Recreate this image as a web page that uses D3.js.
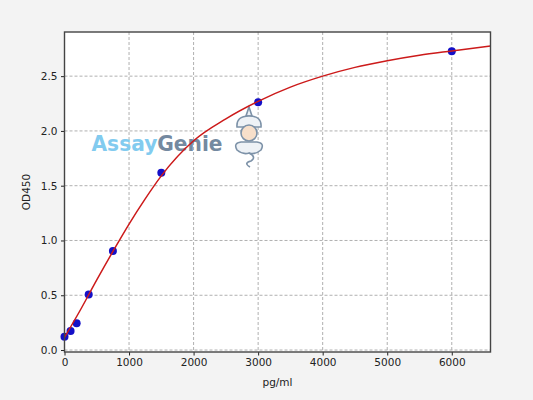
<!DOCTYPE html>
<html>
<head>
<meta charset="utf-8">
<script src="https://cdn.jsdelivr.net/npm/d3@7"></script>
<style>
  body { margin: 0; background: #f3f3f3; }
  svg { display: block; }
  text { font-family: "DejaVu Sans", sans-serif; fill: #222; }
</style>
</head>
<body>
<svg id="chart" width="533" height="400"></svg>
<script>
// standard points (pg/ml, OD450)
const concentrations = [0, 94, 188, 375, 750, 1500, 3000, 6000];
const odValues = [0.121, 0.173, 0.244, 0.508, 0.903, 1.618, 2.262, 2.728];

// fitted curve
const curveX = [0, 250, 500, 750, 1000, 1250, 1500, 2000, 2500, 3000, 3500, 4000, 4500, 5000, 5500, 6000, 6600];
const curveY = [0.115, 0.37, 0.64, 0.90, 1.15, 1.38, 1.59, 1.91, 2.11, 2.27, 2.40, 2.50, 2.58, 2.64, 2.69, 2.73, 2.776];

const xTicks = [0, 1000, 2000, 3000, 4000, 5000, 6000];
const yTicks = [0.0, 0.5, 1.0, 1.5, 2.0, 2.5];

const margin = { top: 32, right: 42.5, bottom: 48, left: 64.5 };
const width = 533 - margin.left - margin.right;
const height = 400 - margin.top - margin.bottom;

const svg = d3.select('#chart');

const x = d3.scaleLinear().domain([0, 6600]).range([0, width]);
const y = d3.scaleLinear().domain([-0.018, 2.903]).range([height, 0]);

const g = svg.append('g')
    .attr('transform', `translate(${margin.left},${margin.top})`);

g.append('rect')
    .attr('width', width)
    .attr('height', height)
    .attr('fill', '#fff');

// grid
g.append('g')
    .selectAll('line')
    .data(xTicks)
    .join('line')
    .attr('x1', d => x(d)).attr('x2', d => x(d))
    .attr('y1', 0).attr('y2', height)
    .attr('stroke', '#b0b0b0')
    .attr('stroke-dasharray', '3,2');

g.append('g')
    .selectAll('line')
    .data(yTicks)
    .join('line')
    .attr('x1', 0).attr('x2', width)
    .attr('y1', d => y(d)).attr('y2', d => y(d))
    .attr('stroke', '#b0b0b0')
    .attr('stroke-dasharray', '3,2');

// watermark
const wm = g.append('text')
    .attr('x', 91.5 - margin.left)
    .attr('y', 151 - margin.top)
    .attr('font-family', '"Liberation Sans", Arial, sans-serif')
    .attr('font-weight', 'bold')
    .attr('font-size', 21)
    .attr('textLength', 131)
    .attr('lengthAdjust', 'spacingAndGlyphs');
wm.append('tspan').attr('fill', '#82cbef').style('fill', '#82cbef').text('Assay');
wm.append('tspan').attr('fill', '#7489a0').style('fill', '#7489a0').text('Genie');

// little genie
const genie = g.append('g')
    .attr('transform', `translate(${249 - margin.left},${107 - margin.top})`)
    .attr('stroke', '#7d92a8')
    .attr('stroke-width', 1.6)
    .attr('fill', '#fff');
genie.append('path').attr('d', 'M0,0 L-3,9 L3,9 Z').attr('fill', '#eef2f6');
genie.append('path').attr('d', 'M-12,20 Q-13,9 0,9 Q13,9 12,20 Z').attr('fill', '#eef2f6');
genie.append('circle').attr('cx', 0).attr('cy', 26).attr('r', 8).attr('fill', '#f7dfca');
genie.append('path').attr('d', 'M-12,43 Q-16,36 -8,35 L8,35 Q16,36 12,43 Q6,48 0,46 Q-6,48 -12,43 Z').attr('fill', '#eef2f6');
genie.append('path').attr('d', 'M0,46 Q8,50 2,54 Q-6,56 1,60').attr('fill', 'none');

// axes
const xAxis = g.append('g')
    .attr('transform', `translate(0,${height})`)
    .call(d3.axisBottom(x).tickValues(xTicks).tickFormat(d3.format('d')).tickSize(3.5).tickPadding(3.5));
const yAxis = g.append('g')
    .call(d3.axisLeft(y).tickValues(yTicks).tickFormat(d3.format('.1f')).tickSize(3.5).tickPadding(3.5));
[xAxis, yAxis].forEach(a => {
    a.select('.domain').remove();
    a.selectAll('text').attr('font-size', 10.5).attr('fill', '#222').style('font-family', '"DejaVu Sans", sans-serif');
    a.selectAll('line').attr('stroke', '#222');
});

// points
g.append('g')
    .selectAll('circle')
    .data(concentrations)
    .join('circle')
    .attr('cx', d => x(d))
    .attr('cy', (d, i) => y(odValues[i]))
    .attr('r', 4)
    .attr('fill', '#1410c8');

// curve
const line = d3.line()
    .x((d, i) => x(d))
    .y((d, i) => y(curveY[i]))
    .curve(d3.curveMonotoneX);

g.append('path')
    .datum(curveX)
    .attr('fill', 'none')
    .attr('stroke', '#cc1a1a')
    .attr('stroke-width', 1.5)
    .attr('d', line);

// frame
g.append('rect')
    .attr('width', width)
    .attr('height', height)
    .attr('fill', 'none')
    .attr('stroke', '#444')
    .attr('stroke-width', 1.4);

// labels
svg.append('text')
    .attr('x', margin.left + width / 2)
    .attr('y', 386)
    .attr('text-anchor', 'middle')
    .attr('font-size', 10.5)
    .text('pg/ml');

svg.append('text')
    .attr('transform', `translate(30,${margin.top + height / 2}) rotate(-90)`)
    .attr('text-anchor', 'middle')
    .attr('font-size', 10.5)
    .text('OD450');
</script>
</body>
</html>
